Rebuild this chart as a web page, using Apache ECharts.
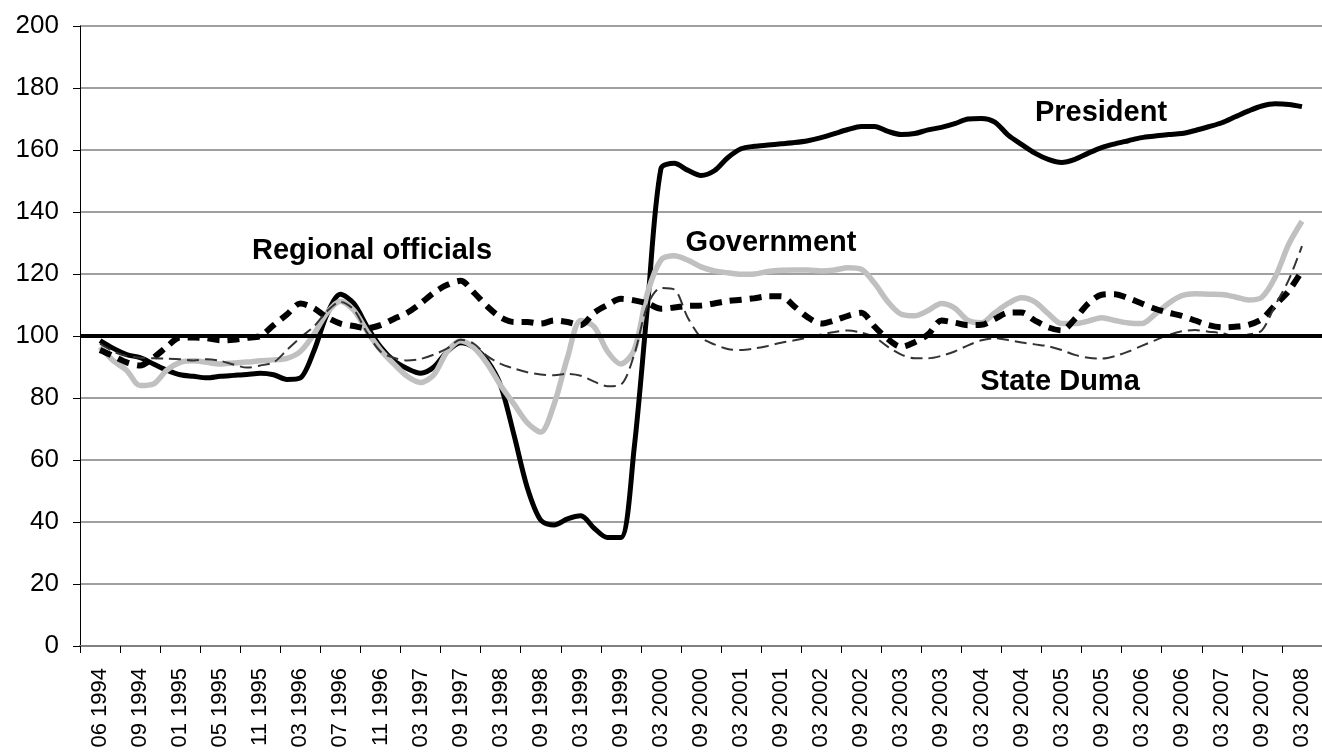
<!DOCTYPE html>
<html>
<head>
<meta charset="utf-8">
<script src="https://cdn.jsdelivr.net/npm/echarts@6/dist/echarts.min.js"></script>
<style>
html,body{margin:0;padding:0;background:#fff;}
#chart{width:1322px;height:756px;}
</style>
</head>
<body>
<div id="chart"></div>
<script>
// Tick labels (survey dates)
const tickLabels = ['06 1994','09 1994','01 1995','05 1995','11 1995','03 1996','07 1996','11 1996','03 1997','09 1997',
  '03 1998','09 1998','03 1999','09 1999','03 2000','09 2000','03 2001','09 2001','03 2002','09 2002',
  '03 2003','09 2003','03 2004','09 2004','03 2005','09 2005','03 2006','09 2006','03 2007','09 2007','03 2008'];

// Series values (3 readings per labelled period, first/last on the labelled dates)
const president = [98.5,96,94,93,91,89,87.5,87,86.5,87,87.3,87.6,88,87.5,86,86.5,95,107,113.5,110.5,
  103,96.5,92,89.5,88,90,95,97.8,96.3,92,84,68,51,40.6,39,41,42,38,35,35,
  64,110,154,155.7,153.5,151.8,153.3,157.5,160.4,161.2,161.6,162,162.4,163,164,165.3,166.6,167.6,167.6,166,
  165,165.3,166.5,167.3,168.5,170,170.2,169,164.8,161.8,159,157,156,157,159,160.8,162,163,164,164.5,
  165,165.3,166.3,167.5,168.8,170.7,172.6,174.2,174.9,174.7,174];
const government = [96.5,92,88.9,84,84.5,89,91.5,92,91.5,91,91.3,91.6,92,92.3,92.8,95,100.5,107.5,111.2,108.3,
  101.5,95.5,91,87,85,87.5,95,98.5,96.2,91,84,78,72,69,78,93,105,103,95,91,
  95.5,114,124.5,125.9,124.5,122.3,121,120.4,119.9,120,120.8,121.2,121.3,121.3,121,121.3,122,121.5,117,111,
  107,106.5,108.2,110.5,109,105,104.3,107.5,110.5,112.3,111,107.2,104,104,104.8,105.9,105,104.2,104,107,
  110.5,113,113.6,113.5,113.4,112.6,111.6,112.5,119,129.5,137];
const regional = [95.5,93.5,91.5,90.5,93,96.5,99.5,99.5,99.3,98.6,98.8,99.4,100,103.5,107,110.5,109,106,104,103.2,
  102.5,103.5,105.5,107.5,110.5,114,116.5,117.8,114,109.5,106,104.5,104.5,104,105,104.5,103.5,107.5,110,112,
  111.5,110.5,108.8,109.2,109.7,109.8,110.5,111.3,111.7,112.2,112.8,112.8,109.5,106,104,105,106.5,107.5,103,99,
  96.5,98,100.5,105,104.3,103.5,103.6,105.5,107.5,107.6,105,102.8,101.8,105.5,110.5,113.3,113.5,112.2,110.5,108.8,
  107.5,106.5,105,103.5,102.8,103,103.6,105.5,110,114.5,121];
const duma = [97.5,95,93.5,93,92.8,92.7,92.5,92.1,92.5,92,90.8,89.8,90.5,91.5,95.5,99.5,103,108,111,108.5,
  101,95,93,92.1,92.6,94,96,98.8,97.5,93.5,91,89.5,88.3,87.6,87.3,87.8,87.2,85.3,83.8,84.3,
  94,110,115.5,115,106,99.5,97.3,95.8,95.5,96,96.8,97.8,98.6,99.5,100.5,101.3,101.8,101.1,99.6,96.5,
  94,92.8,92.8,93.6,95,97,98.6,99.3,98.7,97.9,97.3,96.7,95.5,93.9,93,92.7,93.5,95,96.8,98.6,
  100.3,101.5,101.9,101.4,100.9,100,100.5,101.8,110,118,129];
const baselineValue = 100;
const yTicks = {min: 0, max: 200, step: 20};
const SUB = 3; // readings per labelled period

// Build fine category axis from the tick labels
const categories = [];
tickLabels.forEach(function (l) { categories.push(l + ' a', l, l + ' b'); });
function pad(arr) { return [null].concat(arr, [null]); }

const chart = echarts.init(document.getElementById('chart'), null, {renderer: 'canvas'});
const FONT = "'Liberation Sans', Arial, sans-serif";
const option = {
  animation: false,
  backgroundColor: '#ffffff',
  grid: {left: 80, top: 26, bottom: 110, right: -11, containLabel: false},
  xAxis: {
    type: 'category',
    data: categories,
    boundaryGap: true,
    axisLine: {show: true, lineStyle: {color: '#808080', width: 2}},
    axisTick: {show: true, length: 7, interval: function (i) { return i % SUB === 0; }, lineStyle: {color: '#000', width: 1}},
    axisLabel: {
      show: true, rotate: 90, margin: 22, interval: function (i) { return i % SUB === 1; },
      fontFamily: FONT, fontSize: 22, color: '#000'
    },
    splitLine: {show: false}
  },
  yAxis: {
    type: 'value',
    min: yTicks.min, max: yTicks.max, interval: yTicks.step,
    axisLine: {show: true, lineStyle: {color: '#000', width: 1}},
    axisTick: {show: true, length: 7, lineStyle: {color: '#000', width: 1}},
    axisLabel: {fontFamily: FONT, fontSize: 26, color: '#000', margin: 21},
    splitLine: {show: true, lineStyle: {color: '#808080', width: 1.5}}
  },
  series: [
    {name: 'President', type: 'line', data: pad(president), showSymbol: false, smooth: 0.3,
      lineStyle: {color: '#000', width: 5}, z: 2},
    {name: 'Government', type: 'line', data: pad(government), showSymbol: false, smooth: 0.3,
      lineStyle: {color: '#c0c0c0', width: 5.5}, z: 3},
    {name: 'Regional officials', type: 'line', data: pad(regional), showSymbol: false, smooth: 0.3,
      lineStyle: {color: '#000', width: 6, type: [12, 8]}, z: 4},
    {name: 'State Duma', type: 'line', data: pad(duma), showSymbol: false, smooth: 0.3,
      lineStyle: {color: '#333', width: 2, type: [12, 6]}, z: 5,
      markLine: {silent: true, symbol: 'none', label: {show: false}, z: 10,
        lineStyle: {color: '#000', width: 4, type: 'solid'},
        data: [{yAxis: baselineValue}]}}
  ],
  graphic: [
    {type: 'text', x: 1101, y: 113, z: 20, style: {text: 'President', font: 'bold 29px ' + FONT, fill: '#000', textAlign: 'center', textVerticalAlign: 'middle'}},
    {type: 'text', x: 771, y: 243, z: 20, style: {text: 'Government', font: 'bold 29px ' + FONT, fill: '#000', textAlign: 'center', textVerticalAlign: 'middle'}},
    {type: 'text', x: 372, y: 251, z: 20, style: {text: 'Regional officials', font: 'bold 29px ' + FONT, fill: '#000', textAlign: 'center', textVerticalAlign: 'middle'}},
    {type: 'text', x: 1060, y: 382, z: 20, style: {text: 'State Duma', font: 'bold 29px ' + FONT, fill: '#000', textAlign: 'center', textVerticalAlign: 'middle'}}
  ]
};
chart.setOption(option);
</script>
</body>
</html>
